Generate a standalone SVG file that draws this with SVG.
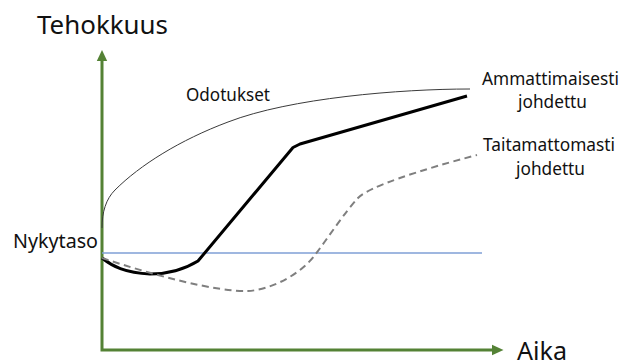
<svg xmlns="http://www.w3.org/2000/svg" width="622" height="362" viewBox="0 0 622 362">
  <style>
    .lbl { font-family: "Noto Sans", "Open Sans", "Liberation Sans", sans-serif; fill: #111111; }
    .axis { fill: none; stroke: #548235; stroke-width: 3; }
    .head { fill: #548235; }
    .base { fill: none; stroke: #7f9fd6; stroke-width: 1.3; }
    .expect { fill: none; stroke: #3a3a3a; stroke-width: 1; }
    .good { fill: none; stroke: #000000; stroke-width: 3; stroke-linejoin: round; stroke-linecap: butt; }
    .poor { fill: none; stroke: #7f7f7f; stroke-width: 2; stroke-dasharray: 7 4.5; }
  </style>
  <rect width="622" height="362" fill="#ffffff"/>

  <!-- axes -->
  <g id="axes">
    <path class="axis" d="M102,60 L102,350 L493,350"/>
    <polygon class="head" points="102,50 107.2,61 96.8,61"/>
    <polygon class="head" points="503.5,350 492,344.8 492,355.2"/>
  </g>

  <!-- current level and curves -->
  <g id="connectors">
    <line class="base" x1="102" y1="253" x2="482" y2="253"/>
    <path id="odotukset-curve" class="expect" d="M102,228 C102,212 106,199 115,190 C140,165 180,140 228,122 C290,98 400,89 470,89"/>
    <path id="ammattimainen-curve" class="good" d="M102,258 C112,266 125,273 150,274 C170,274 185,269 198,261 L293,147.5 L300,144 L467,96"/>
    <path id="taitamaton-curve" class="poor" d="M102,258 C150,274 215,292 248,291 C270,290 300,275 315,255 C330,235 345,212 358,198 C368,187 420,170 477,155"/>
  </g>

  <!-- labels -->
  <g id="label-tehokkuus">
    <text class="lbl" x="37" y="34" font-size="26" textLength="131" lengthAdjust="spacingAndGlyphs">Tehokkuus</text>
  </g>
  <g id="label-aika">
    <text class="lbl" x="517" y="359.5" font-size="26" textLength="50" lengthAdjust="spacingAndGlyphs">Aika</text>
  </g>
  <g id="label-odotukset">
    <text class="lbl" x="186" y="101" font-size="17.5" textLength="84" lengthAdjust="spacingAndGlyphs">Odotukset</text>
  </g>
  <g id="label-nykytaso">
    <text class="lbl" x="13" y="248" font-size="20" textLength="85" lengthAdjust="spacingAndGlyphs">Nykytaso</text>
  </g>
  <g id="label-ammattimaisesti">
    <text class="lbl" x="482" y="85" font-size="17.5" textLength="137" lengthAdjust="spacingAndGlyphs">Ammattimaisesti</text>
    <text class="lbl" x="518" y="108" font-size="17.5" textLength="69" lengthAdjust="spacingAndGlyphs">johdettu</text>
  </g>
  <g id="label-taitamattomasti">
    <text class="lbl" x="483" y="151" font-size="17.5" textLength="132" lengthAdjust="spacingAndGlyphs">Taitamattomasti</text>
    <text class="lbl" x="516" y="175" font-size="17.5" textLength="69" lengthAdjust="spacingAndGlyphs">johdettu</text>
  </g>
</svg>
